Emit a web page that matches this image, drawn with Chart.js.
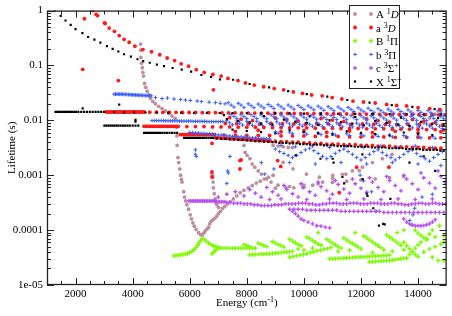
<!DOCTYPE html>
<html>
<head>
<meta charset="utf-8">
<script src="https://cdn.jsdelivr.net/npm/chart.js@4.4.0/dist/chart.umd.min.js"></script>
<style>
  html, body { margin: 0; padding: 0; background: #fff; }
  #wrap { width: 452px; height: 316px; }
</style>
</head>
<body>
<div id="wrap"><canvas id="canvas" width="452" height="316"></canvas></div>
<script>
// axis ticks
var xTickValues = [2000, 4000, 6000, 8000, 10000, 12000, 14000];
var yTickValues = [1, 0.1, 0.01, 0.001, 0.0001, 0.00001];
var yTickLabels = ['1', '0.1', '0.01', '0.001', '0.0001', '1e-05'];

// level lifetimes, [energy cm-1, lifetime s]
var levelsA1D = [
  [4280,0.245],[4280,0.19],[4290,0.14],[4310,0.11],[4340,0.091],[4360,0.075],[4380,0.064],[4420,0.047],[4460,0.04],[4510,0.034],
  [4570,0.029],[4630,0.025],[4710,0.022],[4800,0.020],[4910,0.018],[5030,0.0164],[5150,0.0148],[5260,0.0133],[5380,0.012],[5490,0.0109],
  [5540,0.0075],[5550,0.0052],[5560,0.0035],[5590,0.0021],[5615,0.0017],[5650,0.0013],[5680,0.001],[5710,0.00084],[5730,0.00075],[5790,0.0005],
  [5820,0.0004],[5860,0.00034],[5900,0.00029],[5960,0.00024],[6020,0.00019],[6060,0.00016],[6110,0.000135],[6160,0.000118],[6220,0.000103],[6310,0.00009],
  [6380,0.000083],[6430,0.00008],[6490,0.000088],[6540,0.000096],[6600,0.000104],[6660,0.000113],[6700,0.00013],[6750,0.000145],[6820,0.000155],[6890,0.000166],
  [6950,0.00018],[7010,0.0002],[7080,0.00022],[7150,0.00025],[7230,0.00027],[7320,0.0003],[7420,0.00033],[7530,0.00037],[7650,0.00042],[7770,0.00048],
  [7900,0.00053],[8050,0.00059],[8190,0.00065],[8330,0.00072],[8470,0.00078],[8610,0.00085],[8760,0.00092],[8920,0.001],
  [6780,0.00107],[6800,0.00098],[6810,0.00092],[6820,0.00075],[6830,0.00059],[6860,0.00046],[6890,0.00037],[6920,0.00032],[6950,0.00029],[7010,0.00026],
  [7880,0.0048],[7900,0.0035],[7940,0.0026],[8010,0.0023],[8110,0.002],[8190,0.0016],[8280,0.0014],[8400,0.0012],[8510,0.00105],[8690,0.00086],
  [8850,0.00075],[9090,0.00066],[9370,0.0006],[9650,0.00059],[9960,0.0006],[10310,0.00066],[10660,0.00075],[11010,0.00088],[11350,0.00104],[11700,0.0012],
  [12050,0.0014],[12400,0.0017],[12750,0.002],[13090,0.0024],
  [9270,0.00171],[9620,0.00131],[10090,0.00105],[10540,0.00092],[11010,0.00099],[11470,0.00105],[11940,0.00121],
  [8920,0.0035],[9100,0.0034],[9280,0.0033],[9450,0.0032],[9600,0.0032],
  [14000,0.0075],[14200,0.009],[14400,0.011],[14600,0.013],[14800,0.015],
  [9000,0.00058],[9500,0.00062],[10000,0.00066],[10500,0.0007],[11000,0.00074],[11500,0.00078],[12000,0.00082],[12500,0.00086],[13000,0.0009],[13500,0.00094]
];

var levelsa3D = [
  [2600,1.0],[2720,0.85],[2770,0.81],[3010,0.60],[3040,0.58],[3180,0.48],[3360,0.42],[3530,0.35],[3700,0.30],[3880,0.265],
  [4080,0.225],[4360,0.195],[4660,0.178],[4950,0.157],[5210,0.137],[5470,0.123],[5700,0.107],[5960,0.097],[6230,0.084],[6510,0.075],
  [6810,0.069],[7100,0.064],[7340,0.058],[7690,0.053],[7950,0.048],[8260,0.044],[8590,0.041],[8960,0.038],[9290,0.036],[9630,0.033],
  [9950,0.031],[10270,0.029],[10640,0.028],[10990,0.026],[11330,0.0245],[11720,0.0225],[12090,0.0216],[12500,0.0207],[12900,0.0195],[13250,0.0187],
  [13600,0.0183],[14000,0.017],[14410,0.0164],[14760,0.0158],
  [2250,0.085],[2310,0.71],[3500,0.053],[6830,0.036],[6780,0.0038],[6780,0.00115],[6780,0.00093],[7760,0.00185],[7760,0.0013],[7800,0.0019],
  [9080,0.00185],[9190,0.00145],[11240,0.00048],[11850,0.0014],[12980,0.0014],
  [3080,0.0142],[3140,0.0142],[3200,0.0142],[3260,0.0142],[3320,0.0142],[3380,0.0142],[3440,0.0142],[3500,0.0142],[3560,0.0142],[3620,0.0142],
  [3680,0.0142],[3740,0.0142],[3800,0.0142],[3860,0.0142],[3920,0.0142],[3980,0.0142],[4040,0.0142],[4100,0.0142],[4160,0.0142],[4220,0.0142],
  [4280,0.0142],[4340,0.0142],[4400,0.0142],
  [4600,0.0141],[4830,0.0141],[5060,0.014],[5290,0.014],[5520,0.014],[5750,0.0139],[5980,0.0139],[6210,0.0139],[6440,0.0138],[6670,0.0138],
  [6900,0.0138],[7130,0.0137],[7360,0.0137],[7590,0.0137],[7820,0.0136],[8050,0.0136],[8280,0.0136],[8510,0.0135],[8740,0.0135],[8970,0.0135],
  [9200,0.0134],[9430,0.0134],[9660,0.0134],[9890,0.0133],[10120,0.0133],[10350,0.0133],[10580,0.0132],[10810,0.0132],[11040,0.0132],[11270,0.0131],
  [11500,0.0131],[11730,0.0131],[11960,0.013],[12190,0.013],[12420,0.013],[12650,0.0129],[12880,0.0129],[13110,0.0129],[13340,0.0128],[13570,0.0128],
  [13800,0.0128],[14030,0.0127],[14260,0.0127],[14490,0.0127],[14720,0.0126],[14950,0.0126],
  [4400,0.0078],[4460,0.0078],[4520,0.0078],[4580,0.0078],[4640,0.0078],[4700,0.0078],[4760,0.0078],[4820,0.0078],[4880,0.0078],[4940,0.0078],
  [5000,0.0078],[5060,0.0078],[5120,0.0078],[5180,0.0078],[5240,0.0078],[5300,0.0078],[5360,0.0078],[5420,0.0078],[5480,0.0078],[5540,0.0078],[5600,0.0078],
  [5900,0.0077],[6200,0.0077],[6500,0.0077],[6800,0.0076],[7100,0.0076],[7400,0.0076],[7700,0.0075],[8000,0.0075],[8300,0.0075],[8600,0.0074],
  [8900,0.0074],[9200,0.0074],[9500,0.0073],[9800,0.0073],[10100,0.0073],[10400,0.0072],[10700,0.0072],[11000,0.0072],[11300,0.0071],[11600,0.0071],
  [11900,0.0071],[12200,0.007],[12500,0.007],[12800,0.007],[13100,0.0069],[13400,0.0069],[13700,0.0069],[14000,0.0068],[14300,0.0068],[14600,0.0068],[14900,0.0067],
  [5670,0.0055],[5730,0.0055],[5790,0.0055],[5850,0.0055],[5910,0.0055],[5970,0.0055],[6030,0.0055],[6090,0.0055],[6150,0.0055],[6210,0.0055],
  [6270,0.0055],[6330,0.0055],[6390,0.0055],[6450,0.0055],[6510,0.0055],[6570,0.0055],[6630,0.0055],[6690,0.0055],[6750,0.0055],[6810,0.0055],[6870,0.0055],
  [7200,0.0054],[7600,0.0054],[8000,0.0053],[8400,0.0053],[8800,0.0053],[9200,0.0052],[9600,0.0052],[10000,0.0052],[10400,0.0051],[10800,0.0051],
  [11200,0.0051],[11600,0.005],[12000,0.005],[12400,0.005],[12800,0.005],[13200,0.0049],[13600,0.0049],[14000,0.0049],[14400,0.0048],[14800,0.0048],
  [6900,0.0048],[6980,0.0048],[7060,0.0048],[7140,0.0047],[7220,0.0047],[7300,0.0047],[7380,0.0047],[7460,0.0046],[7540,0.0046],[7620,0.0046],
  [7700,0.0046],[7780,0.0045],[7860,0.0045],[7940,0.0045],[8020,0.0045],[8100,0.0044],[8180,0.0044],[8260,0.0044],[8340,0.0044],[8420,0.0043],
  [8500,0.0043],[8580,0.0043],[8660,0.0043],[8740,0.0042],[8820,0.0042],
  [9000,0.0042],[9200,0.0041],[9400,0.0041],[9600,0.004],[9800,0.004],[10000,0.0039],[10200,0.0039],[10400,0.0038],[10600,0.0038],[10800,0.0037],
  [11000,0.0037],[11200,0.0037],[11400,0.0036],[11600,0.0036],[11800,0.0036],[12000,0.0035],[12200,0.0035],[12400,0.0035],[12600,0.0034],[12800,0.0034],
  [13000,0.0034],[13200,0.0033],[13400,0.0033],[13600,0.0033],[13800,0.0032],[14000,0.0032],[14200,0.0032],[14400,0.0031],[14600,0.0031],[14800,0.0031],
  [7400,0.0112],[7800,0.0105],[8200,0.0099],[9000,0.011],[9400,0.0103],[9800,0.0097],[10600,0.0108],[11000,0.0101],[11400,0.0095],[12200,0.0106],
  [12600,0.0099],[13000,0.0093],[13800,0.0104],[14200,0.0097],[14600,0.0091],
  [7600,0.0063],[8400,0.0066],[9200,0.0062],[10000,0.0065],[10800,0.0061],[11600,0.0064],[12400,0.006],[13200,0.0063],[14000,0.0059],[14800,0.0062],
  [7250,0.0088],[7650,0.0087],[8050,0.0086],[8450,0.0085],[8850,0.0088],[9250,0.0087],[9650,0.0086],[10050,0.0085],[10450,0.0087],[10850,0.0086],
  [11250,0.0085],[11650,0.0084],[12050,0.0086],[12450,0.0085],[12850,0.0084],[13250,0.0083],[13650,0.0085],[14050,0.0084],[14450,0.0083],[14850,0.0082]
];

var levelsB1P = [
  [5440,0.000034],[5520,0.0000345],[5600,0.000035],[5680,0.0000355],[5760,0.000036],[5840,0.0000365],[5920,0.0000375],[6000,0.000039],[6080,0.000041],[6150,0.000044],
  [6220,0.000048],[6280,0.000053],[6330,0.000059],[6380,0.000065],[6430,0.00007],[6500,0.000068],[6580,0.000063],[6660,0.000058],[6740,0.000055],[6820,0.000052],
  [6900,0.00005],[6980,0.000049],
  [6780,0.000037],[6840,0.00004],[6900,0.000043],[6960,0.000045],[7040,0.000047],
  [7100,0.000047],[7200,0.000047],[7300,0.000047],[7400,0.000047],[7500,0.000047],[7600,0.000047],[7700,0.000047],[7800,0.000047],[7900,0.000047],[8000,0.000047],
  [8100,0.000047],[8200,0.000047],[8300,0.000047],
  [8100,0.0000355],[8200,0.000036],[8300,0.000036],[8400,0.0000362],[8500,0.0000365],[8600,0.0000367],[8700,0.000037],[8800,0.0000372],[8900,0.0000375],[9000,0.000038],
  [9100,0.0000385],[9200,0.000039],[9300,0.0000395],[9400,0.00004],[9500,0.0000405],[9600,0.000041],
  [9500,0.000032],[9620,0.000033],[9740,0.000034],[9860,0.000035],[9980,0.000036],[10100,0.000037],[10220,0.000039],[10340,0.00004],[10460,0.000042],[10580,0.000043],
  [10700,0.000045],[10820,0.000046],[10940,0.000048],
  [10900,0.00003],[11000,0.00003],[11100,0.00003],[11200,0.0000305],[11300,0.0000305],[11400,0.000031],[11500,0.000031],[11600,0.0000315],[11700,0.0000315],[11800,0.000032],
  [11900,0.000032],[12000,0.0000325],[12100,0.0000325],[12200,0.000033],[12300,0.000033],[12400,0.0000335],[12500,0.0000335],[12600,0.000034],[12700,0.000034],[12800,0.0000345],
  [12900,0.0000345],[13000,0.000035],
  [12300,0.0000262],[12400,0.0000265],[12500,0.0000268],[12600,0.000027],[12700,0.0000272],[12800,0.0000275],[12900,0.0000278],[13000,0.000028],[13100,0.0000285],[13200,0.000029],
  [13300,0.0000295],[13400,0.00003],[13500,0.0000305],[13600,0.000031],
  [13500,0.00006],[13600,0.000052],[13700,0.000046],[13800,0.00004],[13900,0.000036],[14000,0.000033],[13700,0.000036],[13800,0.000041],[13900,0.000047],[14000,0.000054],
  [14100,0.00006],[14200,0.00004],[14400,0.000045],[14600,0.00005],[14800,0.000055],[14900,0.00006],[14500,0.000032],[14700,0.000028],[14900,0.000028],[14300,0.00007],
  [14600,0.000075],[14900,0.00008],
  [7900,0.000055],[8000,0.000052],[8100,0.00005],
  [8400,0.000058],[8500,0.000055],[8600,0.000052],[8700,0.00005],
  [8900,0.000062],[9000,0.000058],[9100,0.000055],[9200,0.000052],[9300,0.000049],
  [9500,0.000068],[9600,0.000063],[9700,0.000059],[9800,0.000055],[9900,0.000052],
  [10100,0.000075],[10200,0.00007],[10300,0.000065],[10400,0.00006],[10500,0.000056],[10600,0.000053],
  [10800,0.000068],[10900,0.000063],[11000,0.000058],[11100,0.000054],[11200,0.00005],[11300,0.000047],
  [11400,0.000072],[11500,0.000066],[11600,0.000061],[11700,0.000057],[11800,0.000053],[11900,0.000049],[12000,0.000045],
  [12100,0.000078],[12200,0.000072],[12300,0.000066],[12400,0.000061],[12500,0.000056],[12600,0.000052],[12700,0.000048],[12800,0.000044],
  [12900,0.000082],[13000,0.000075],[13100,0.000069],[13200,0.000063],[13300,0.000058],[13400,0.000053],
  [14000,0.000088],[14100,0.00008],[14200,0.000073],[14300,0.000066],
  [9800,0.000045],[10000,0.000043],[10300,0.000047],[11200,0.000041],[11600,0.000043],[12400,0.000039],[13100,0.000041],[13500,0.000044],
  [10500,0.00009],[11800,0.00009],[14500,0.0001],[13900,0.0001],[13270,0.00009],[13500,0.0001],[14400,0.000085],[14750,0.00012]
];

var levelsb3P = [
  [3350,0.030],[3400,0.030],[3450,0.030],[3500,0.030],[3550,0.030],[3600,0.030],[3650,0.0299],[3700,0.0298],[3750,0.0297],[3800,0.0296],
  [3850,0.0295],[3900,0.0294],[3950,0.0293],[4000,0.0292],[4050,0.0291],[4100,0.029],[4150,0.0289],[4200,0.0288],[4250,0.0287],[4300,0.0286],
  [4350,0.0285],[4400,0.0284],[4450,0.0283],[4500,0.0282],[4550,0.0281],[4600,0.028],[4650,0.028],
  [4800,0.026],[5030,0.025],[5220,0.0255],[5450,0.0245],[5680,0.024],[5850,0.0235],[6020,0.023],[6260,0.0225],[6410,0.022],[6680,0.0215],
  [6900,0.021],[7070,0.0205],[7240,0.020],
  [7350,0.021],[7450,0.019],[7550,0.0175],[7700,0.0205],[7800,0.019],[7900,0.0172],[8050,0.020],[8150,0.0185],[8250,0.017],[8400,0.0198],
  [8500,0.0182],[8600,0.0168],[8750,0.0195],[8850,0.018],[8950,0.0165],[9100,0.0192],[9200,0.0177],[9300,0.0162],[9450,0.019],[9550,0.0175],
  [9650,0.016],[9800,0.0187],[9900,0.0172],[10000,0.0158],[10150,0.0184],[10250,0.017],[10350,0.0155],[10500,0.0181],[10600,0.0167],[10700,0.0152],
  [10850,0.0178],[10950,0.0164],[11050,0.015],[11200,0.0175],[11300,0.0161],[11400,0.0148],[11550,0.0172],[11650,0.0158],[11750,0.0145],[11900,0.0169],
  [12000,0.0155],[12100,0.0143],[12250,0.0166],[12350,0.0152],[12450,0.014],[12600,0.0163],[12700,0.015],[12800,0.0138],[12950,0.016],[13050,0.0147],
  [13150,0.0135],[13300,0.0158],[13400,0.0145],[13500,0.0133],[13650,0.0155],[13750,0.0142],[13850,0.013],[14000,0.0152],[14100,0.014],[14200,0.0128],
  [14350,0.015],[14450,0.0138],[14550,0.0126],[14700,0.0148],[14800,0.0135],[14900,0.0124],
  [7450,0.0128],[7550,0.0118],[7650,0.0109],[7800,0.0127],[7900,0.0117],[8000,0.0108],[8150,0.0127],[8250,0.0117],[8350,0.0108],[8500,0.0126],
  [8600,0.0116],[8700,0.0107],[8850,0.0126],[8950,0.0116],[9050,0.0107],[9200,0.0125],[9300,0.0115],[9400,0.0106],[9550,0.0125],[9650,0.0115],
  [9750,0.0106],[9900,0.0124],[10000,0.0114],[10100,0.0105],[10250,0.0124],[10350,0.0114],[10450,0.0105],[10600,0.0123],[10700,0.0113],[10800,0.0104],
  [10950,0.0123],[11050,0.0113],[11150,0.0104],[11300,0.0122],[11400,0.0112],[11500,0.0103],[11650,0.0122],[11750,0.0112],[11850,0.0103],[12000,0.0121],
  [12100,0.0111],[12200,0.0102],[12350,0.0121],[12450,0.0111],[12550,0.0102],[12700,0.012],[12800,0.011],[12900,0.0101],[13050,0.012],[13150,0.011],
  [13250,0.0101],[13400,0.0119],[13500,0.0109],[13600,0.01],[13750,0.0119],[13850,0.0109],[13950,0.01],[14100,0.0118],[14200,0.0108],[14300,0.0099],
  [14450,0.0118],[14550,0.0108],[14650,0.0099],[14800,0.0117],[14900,0.0107],
  [4680,0.0099],[4760,0.0099],[4840,0.0099],[4920,0.0099],[5000,0.0099],[5080,0.0099],[5160,0.0098],[5240,0.0098],[5320,0.0098],[5400,0.0098],
  [5480,0.0098],[5560,0.0098],[5640,0.0097],[5720,0.0097],[5800,0.0097],[5880,0.0097],[5960,0.0097],[6040,0.0097],[6120,0.0096],[6200,0.0096],
  [6280,0.0096],[6360,0.0096],[6440,0.0096],[6520,0.0096],[6600,0.0095],[6680,0.0095],[6760,0.0095],[6840,0.0095],[6920,0.0095],[7000,0.0095],
  [7080,0.0095],[7160,0.0095],
  [7300,0.0098],[7400,0.009],[7500,0.0083],[7650,0.0097],[7750,0.0089],[7850,0.0082],[8000,0.0096],[8100,0.0088],[8200,0.0081],[8350,0.0096],
  [8450,0.0088],[8550,0.0081],[8700,0.0095],[8800,0.0087],[8900,0.008],[9050,0.0094],[9150,0.0086],[9250,0.0079],[9400,0.0094],[9500,0.0086],
  [9600,0.0079],[9750,0.0093],[9850,0.0085],[9950,0.0078],[10100,0.0092],[10200,0.0085],[10300,0.0078],[10450,0.0092],[10550,0.0084],[10650,0.0077],
  [10800,0.0091],[10900,0.0084],[11000,0.0077],[11150,0.009],[11250,0.0083],[11350,0.0076],[11500,0.009],[11600,0.0083],[11700,0.0076],[11850,0.0089],
  [11950,0.0082],[12050,0.0075],[12200,0.0089],[12300,0.0082],[12400,0.0075],[12550,0.0088],[12650,0.0081],[12750,0.0074],[12900,0.0088],[13000,0.0081],
  [13100,0.0074],[13250,0.0087],[13350,0.008],[13450,0.0073],[13600,0.0087],[13700,0.008],[13800,0.0073],[13950,0.0086],[14050,0.0079],[14150,0.0072],
  [14300,0.0086],[14400,0.0079],[14500,0.0072],[14650,0.0085],[14750,0.0078],[14850,0.0071],
  [9000,0.0062],[9100,0.0058],[9500,0.0061],[9600,0.0057],[10000,0.006],[10100,0.0056],[10500,0.0059],[10600,0.0055],[11000,0.0058],[11100,0.0054],
  [11500,0.0057],[11600,0.0053],[12000,0.0056],[12100,0.0052],[12500,0.0055],[12600,0.0051],[13000,0.0054],[13100,0.005],[13500,0.0053],[13600,0.0049],
  [14000,0.0052],[14100,0.0048],[14500,0.0051],[14600,0.0047],
  [6000,0.006],[6100,0.006],[6200,0.0059],[6300,0.0059],[6400,0.0058],[6500,0.0058],[6600,0.0057],[6700,0.0057],[6800,0.0056],[6900,0.0055],
  [7000,0.0054],[7100,0.0054],[7200,0.0053],[7300,0.0052],[7400,0.0052],[7500,0.0051],[7600,0.0051],[7700,0.005],[7800,0.005],[7900,0.0049],
  [8000,0.0049],[8100,0.0048],[8200,0.0048],[8300,0.0048],[8400,0.0047],[8500,0.0047],[8600,0.0047],[8700,0.0046],[8800,0.0046],
  [9000,0.003],[9150,0.0027],[9300,0.0025],[9450,0.0023],[9600,0.0021],[9750,0.0023],[9900,0.0026],[10050,0.0029],[10200,0.0031],[10350,0.0028],
  [10500,0.0025],[10650,0.0022],[10800,0.002],[10950,0.0022],[11100,0.0025],[11250,0.0028],[11400,0.003],[11550,0.0027],[11700,0.0024],[11850,0.0021],
  [12000,0.0019],[12150,0.0021],[12300,0.0024],[12450,0.0027],[12600,0.0029],[12750,0.0026],[12900,0.0023],[13050,0.0021],[13200,0.0019],[13350,0.0021],
  [13500,0.0024],[13650,0.0027],[13800,0.0029],[13950,0.0025],[14100,0.0022],[14250,0.002],[14400,0.0018],[14550,0.0021],[14700,0.0024],[14850,0.0027],
  [9200,0.0035],[9700,0.0033],[10300,0.0034],[10900,0.0032],[11500,0.0034],[12100,0.0032],[12700,0.0034],[13300,0.0032],[13900,0.0034],[14500,0.0032],
  [9500,0.0017],[10400,0.0016],[11300,0.0017],[12200,0.0016],[13100,0.0017],[14000,0.0016],[14800,0.0015],
  [6200,0.0029],[6200,0.0024],[6230,0.0022],[7300,0.00071],[7350,0.0011],[7410,0.0022],[8510,0.0017],[8630,0.00105],[7330,0.0012],[8950,0.0013],
  [11970,0.001],[12090,0.00079],[12370,0.0005],[12550,0.00022],[13710,0.00015],[13820,0.00019],[13880,0.00025],[13790,0.000125],[14140,0.0004],[14500,0.00045]
];

var levelsc3S = [
  [5970,0.00034],[6030,0.00034],[6090,0.00034],[6150,0.00034],[6210,0.00034],[6270,0.00034],[6330,0.00034],[6390,0.00034],[6450,0.00034],[6510,0.00034],
  [6570,0.00034],[6630,0.00034],[6690,0.00034],[6750,0.00034],[6810,0.00034],[6870,0.00034],[6930,0.00033],[6990,0.00033],[7050,0.00033],[7110,0.00033],
  [7170,0.00033],[7230,0.00033],
  [7300,0.00032],[7420,0.00032],[7540,0.00031],[7660,0.00031],[7780,0.00031],[7900,0.0003],[8020,0.0003],[8140,0.0003],[8260,0.00029],[8380,0.00029],
  [8500,0.00028],[8620,0.00028],[8740,0.00028],[8860,0.00028],[8980,0.00029],[9100,0.00029],[9220,0.00029],[9340,0.0003],[9460,0.0003],[9580,0.0003],
  [9700,0.0003],[9820,0.00031],[9940,0.00031],[10060,0.00031],[10180,0.0003],[10300,0.0003],[10420,0.00029],[10540,0.00029],[10660,0.0003],[10780,0.0003],
  [10900,0.00031],[11020,0.00031],[11140,0.00031],[11260,0.0003],[11380,0.0003],[11500,0.0003],[11620,0.00031],[11740,0.00031],[11860,0.00031],[11980,0.0003],
  [12100,0.0003],[12220,0.0003],[12340,0.00031],[12460,0.00031],[12580,0.00031],[12700,0.0003],[12820,0.0003],[12940,0.0003],[13060,0.00031],[13180,0.00031],
  [13300,0.0003],[13420,0.0003],[13540,0.00029],[13660,0.00029],[13780,0.0003],[13900,0.0003],[14020,0.00031],[14140,0.00031],[14260,0.0003],[14380,0.0003],
  [14500,0.00031],[14620,0.00031],[14740,0.0003],[14860,0.0003],[14980,0.0003],
  [9500,0.00024],[9650,0.00024],[9800,0.00024],[9950,0.00024],[10100,0.00023],[10250,0.00023],[10400,0.00023],[10550,0.00023],[10700,0.00023],[10850,0.00023],
  [11000,0.00023],[11150,0.00023],[11300,0.00022],[11450,0.00022],[11600,0.00022],[11750,0.00022],[11900,0.00022],[12050,0.00022],[12200,0.00022],[12350,0.00022],
  [12500,0.00022],[12650,0.00022],[12800,0.00021],[12950,0.00021],[13100,0.00021],[13250,0.00021],[13400,0.00021],[13550,0.00021],[13700,0.00021],[13850,0.00021],
  [14000,0.00021],[14150,0.00021],[14300,0.00021],[14450,0.00021],[14600,0.00021],[14750,0.00021],[14900,0.00021],
  [9600,0.00022],[9700,0.0002],[9800,0.00018],[9900,0.00016],[10000,0.00015],[10150,0.00014],[10300,0.00013],[10450,0.00012],[10600,0.000118],[10750,0.000113],
  [10900,0.00011],
  [13500,0.00016],[13600,0.00014],[13700,0.00013],[13800,0.000125],[13900,0.00012],[14000,0.00012],[14100,0.00012],[14200,0.000122],[14300,0.000125],[14400,0.00013],
  [14500,0.00014],[14600,0.000155],
  [7000,0.0004],[7300,0.00045],[7600,0.0005],[7900,0.00042],[8100,0.00055],[8300,0.00047],[8500,0.0004],[8700,0.0006],[8900,0.0005],[9100,0.00043],
  [9300,0.00065],[9400,0.00055],[9600,0.00046],[9800,0.0004],[9900,0.0007],[10000,0.0006],[10200,0.0005],[10400,0.00043],[10500,0.00075],[10600,0.00062],
  [10800,0.00052],[11000,0.00045],[11100,0.0008],[11200,0.00068],[11400,0.00056],[11600,0.00047],[11700,0.00085],[11800,0.0007],[12000,0.00058],[12200,0.00049],
  [12300,0.0009],[12400,0.00075],[12600,0.0006],[12800,0.0005],[12900,0.00095],[13000,0.0008],[13200,0.00065],[13400,0.00052],[13500,0.001],[13600,0.00085],
  [13800,0.0007],[14000,0.00055],[14100,0.0011],[14200,0.0009],[14400,0.00072],[14600,0.00058],[14700,0.0012],[14800,0.00095],[14950,0.00075],
  [8800,0.00036],[9200,0.00037],[10100,0.00036],[10900,0.00037],[11500,0.00036],[12100,0.00037],[12700,0.00036],[13300,0.00037],[13900,0.00036],[14500,0.00037]
];

var levelsX1S = [
  [1270,1.0],[1480,0.80],[1650,0.66],[1830,0.55],[2000,0.46],[2240,0.39],[2440,0.33],[2660,0.295],[2870,0.26],[3100,0.225],
  [3300,0.20],[3500,0.18],[3700,0.16],[3940,0.145],[4170,0.13],[4370,0.12],[4600,0.112],[4850,0.104],[5100,0.097],[5400,0.09],
  [5720,0.084],[6050,0.077],[6410,0.067],[6750,0.062],[7060,0.056],[7520,0.055],[8100,0.046],[8780,0.040],[9450,0.034],[10100,0.030],
  [10820,0.027],[11520,0.0235],[12300,0.021],[13080,0.019],[13800,0.0176],[14580,0.016],
  [1300,0.0143],[1360,0.0143],[1420,0.0143],[1480,0.0143],[1540,0.0143],[1600,0.0143],[1660,0.0143],[1720,0.0143],[1780,0.0143],[1840,0.0143],
  [1900,0.0143],[1960,0.0143],[2020,0.0143],[2100,0.0143],[2200,0.0143],[2300,0.0143],[2400,0.0143],[2500,0.0143],[2600,0.0143],[2700,0.0143],
  [2800,0.0143],[2900,0.0143],[3000,0.0143],
  [3350,0.0141],[3700,0.014],[4050,0.014],[4450,0.0139],[4850,0.0139],[5250,0.0138],[5700,0.0138],[6150,0.0137],[6600,0.0137],[7050,0.0136],
  [7500,0.0136],[8000,0.0135],[8500,0.0135],[9000,0.0134],[9500,0.0134],[10000,0.0133],[10600,0.0133],[11200,0.0132],[11800,0.0131],[12400,0.013],
  [13000,0.013],[13600,0.0129],[14200,0.0128],[14800,0.0128],
  [2250,0.0165],[3530,0.0193],[4100,0.0102],[4100,0.0095],
  [3010,0.008],[3080,0.008],[3150,0.008],[3220,0.008],[3290,0.008],[3360,0.008],[3430,0.008],[3500,0.008],[3580,0.008],[3660,0.008],
  [3740,0.008],[3820,0.008],[3900,0.008],[4000,0.008],[4100,0.008],[4200,0.008],
  [4400,0.0059],[4470,0.0059],[4540,0.0059],[4610,0.0059],[4680,0.0059],[4750,0.0059],[4820,0.0059],[4890,0.0059],[4960,0.0059],[5040,0.0059],
  [5120,0.0059],[5200,0.0059],[5290,0.0059],[5380,0.0059],[5470,0.0059],[5560,0.0059],
  [5800,0.0048],[5870,0.0048],[5940,0.0048],[6010,0.0048],[6080,0.0048],[6150,0.0048],[6220,0.0048],[6290,0.0048],[6360,0.0048],[6430,0.0048],
  [6500,0.0048],[6580,0.0048],[6660,0.0048],[6740,0.0048],[6820,0.0048],[6950,0.0047],[7100,0.0046],[7250,0.0046],[7400,0.0045],[7550,0.0045],
  [7700,0.0044],[7850,0.0044],[8000,0.0043],[8150,0.0043],[8300,0.0042],[8450,0.0042],[8600,0.0041],[8750,0.0041],
  [8900,0.004],[9020,0.004],[9140,0.0039],[9260,0.0039],[9380,0.0039],[9500,0.0038],[9620,0.0038],[9740,0.0038],[9860,0.0037],[9980,0.0037],
  [10100,0.0037],[10220,0.0036],[10340,0.0036],[10460,0.0036],[10580,0.0036],[10700,0.0035],[10820,0.0035],[10940,0.0035],[11060,0.0035],[11180,0.0034],
  [11300,0.0034],[11420,0.0034],[11540,0.0034],[11660,0.0034],[11780,0.0033],[11900,0.0033],[12020,0.0033],[12140,0.0033],[12260,0.0033],[12380,0.0032],
  [12500,0.0032],[12620,0.0032],[12740,0.0032],[12860,0.0032],[12980,0.0031],[13100,0.0031],[13220,0.0031],[13340,0.0031],[13460,0.0031],[13580,0.003],
  [13700,0.003],[13820,0.003],[13940,0.003],[14060,0.003],[14180,0.0029],[14300,0.0029],[14420,0.0029],[14540,0.0029],[14660,0.0029],[14780,0.0028],[14900,0.0028],
  [7300,0.0105],[7700,0.0098],[8100,0.0092],[8500,0.0088],[8900,0.0084],[9300,0.0103],[9700,0.0095],[10100,0.0089],[10500,0.0083],[10900,0.01],
  [11300,0.0093],[11700,0.0087],[12100,0.0081],[12500,0.0097],[12900,0.009],[13300,0.0084],[13700,0.0079],[14100,0.0094],[14500,0.0087],[14900,0.0081],
  [7500,0.0068],[8000,0.0064],[8500,0.0061],[9000,0.0058],[9500,0.0066],[10000,0.0062],[10500,0.0058],[11000,0.0055],[11500,0.0063],[12000,0.0059],
  [12500,0.0056],[13000,0.0053],[13500,0.006],[14000,0.0057],[14500,0.0054],
  [7200,0.0125],[8600,0.012],[10200,0.0118],[11800,0.0115],[13400,0.0112],[14700,0.011],
  [9710,0.0023],[10580,0.002],[11040,0.0017],[12060,0.00085],[12200,0.00046],[12780,0.00013],[12630,0.000121],[12830,0.000127],[12430,0.00025],[13030,0.00037],
  [12230,0.00042],[11010,0.002],[12050,0.0024],[11350,0.00093],[11410,0.00071],[13700,0.0017],[14200,0.0022],[14600,0.0012]
];

var seriesStyles = [
  { label: 'A1D', data: levelsA1D, color: '#bc8fa0', shape: 'circle', r: 1.9, order: 5 },
  { label: 'a3D', data: levelsa3D, color: '#ff1a1a', shape: 'circle', r: 1.9, order: 4 },
  { label: 'B1P', data: levelsB1P, color: '#7cfc00', shape: 'cross', r: 2.2, w: 1.4, order: 3 },
  { label: 'b3P', data: levelsb3P, color: '#3a5cff', shape: 'cross', r: 1.9, w: 1, order: 2 },
  { label: 'c3S', data: levelsc3S, color: '#b84cf5', shape: 'cross', r: 2, w: 1.3, order: 1 },
  { label: 'X1S', data: levelsX1S, color: '#000000', shape: 'rect', r: 1.1, order: 0 }
];

var serif = '"Liberation Serif", "Times New Roman", serif';

function drawMarker(ctx, s, x, y) {
  ctx.fillStyle = s.color;
  ctx.strokeStyle = s.color;
  if (s.shape === 'circle') {
    ctx.beginPath(); ctx.arc(x, y, s.r, 0, Math.PI * 2); ctx.fill();
  } else if (s.shape === 'cross') {
    ctx.lineWidth = s.w;
    ctx.beginPath();
    ctx.moveTo(x - s.r, y); ctx.lineTo(x + s.r, y);
    ctx.moveTo(x, y - s.r); ctx.lineTo(x, y + s.r);
    ctx.stroke();
  } else {
    ctx.fillRect(x - s.r, y - s.r, s.r * 2, s.r * 2);
  }
}

// text with superscripts: parts = [[text, 'n'|'s'|'i'], ...]
function drawRich(ctx, parts, x, y) {
  parts.forEach(function (p) {
    if (p[1] === 's') {
      ctx.font = '8px ' + serif;
      ctx.fillText(p[0], x, y - 4);
    } else if (p[1] === 'i') {
      ctx.font = 'italic 11px ' + serif;
      ctx.fillText(p[0], x, y);
    } else {
      ctx.font = '11px ' + serif;
      ctx.fillText(p[0], x, y);
    }
    x += ctx.measureText(p[0]).width;
  });
  return x;
}

var legendRows = [
  [['A ', 'n'], ['1', 's'], ['D', 'i']],
  [['a ', 'n'], ['3', 's'], ['D', 'i']],
  [['B ', 'n'], ['1', 's'], ['\u03A0', 'n']],
  [['b ', 'n'], ['3', 's'], ['\u03A0', 'n']],
  [['c ', 'n'], ['3', 's'], ['\u03A3', 'n'], ['+', 's']],
  [['X ', 'n'], ['1', 's'], ['\u03A3', 'n'], ['+', 's']]
];

var framePlugin = {
  id: 'framePlugin',
  afterDatasetsDraw: function (chart) {
    var ctx = chart.ctx, a = chart.chartArea, xs = chart.scales.x, ys = chart.scales.y;
    ctx.save();
    ctx.strokeStyle = '#222';
    ctx.lineWidth = 1;
    function seg(x1, y1, x2, y2) { ctx.beginPath(); ctx.moveTo(x1, y1); ctx.lineTo(x2, y2); ctx.stroke(); }
    for (var v = 1500; v < 15000; v += 500) {
      var px = Math.round(xs.getPixelForValue(v)) + 0.5;
      var len = (v % 2000 === 0) ? 7 : 4;
      seg(px, a.bottom, px, a.bottom - len);
      seg(px, a.top, px, a.top + len);
    }
    for (var d = -5; d <= 0; d++) {
      for (var m = 1; m < 10; m++) {
        if (d === 0 && m > 1) break;
        var py = Math.round(ys.getPixelForValue(m * Math.pow(10, d))) + 0.5;
        var l2 = (m === 1) ? 7 : 4;
        seg(a.left, py, a.left + l2, py);
        seg(a.right, py, a.right - l2, py);
      }
    }
    ctx.lineWidth = 1.3;
    ctx.strokeRect(a.left + 0.5, a.top + 0.5, a.right - a.left - 1, a.bottom - a.top - 1);

    // axis titles
    ctx.fillStyle = '#000';
    ctx.textBaseline = 'alphabetic';
    ctx.textAlign = 'left';
    ctx.font = '11px ' + serif;
    var w1 = ctx.measureText('Energy (cm').width;
    ctx.font = '8px ' + serif;
    var w2 = ctx.measureText('-1').width;
    ctx.font = '11px ' + serif;
    var w3 = ctx.measureText(')').width;
    var tx = (a.left + a.right) / 2 - (w1 + w2 + w3) / 2;
    drawRich(ctx, [['Energy (cm', 'n'], ['-1', 's'], [')', 'n']], tx, 306);
    ctx.save();
    ctx.translate(15, (a.top + a.bottom) / 2);
    ctx.rotate(-Math.PI / 2);
    ctx.textAlign = 'center';
    ctx.font = '11px ' + serif;
    ctx.fillText('Lifetime (s)', 0, 0);
    ctx.restore();

    // legend
    ctx.fillStyle = '#fff';
    ctx.fillRect(349, 5, 50, 84);
    ctx.strokeStyle = '#222';
    ctx.lineWidth = 1;
    ctx.strokeRect(349.5, 5.5, 50, 83);
    seriesStyles.forEach(function (s, i) {
      var ry = 14 + i * 13.5;
      drawMarker(ctx, s, 355, ry);
      drawMarker(ctx, s, 371, ry);
      ctx.fillStyle = '#000';
      ctx.textAlign = 'left';
      drawRich(ctx, legendRows[i], 376, ry + 4);
    });
    ctx.restore();
  }
};

var datasets = seriesStyles.map(function (s) {
  return {
    label: s.label,
    data: s.data.map(function (p) { return { x: p[0], y: p[1] }; }),
    order: s.order,
    pointStyle: s.shape === 'cross' ? 'cross' : (s.shape === 'rect' ? 'rect' : 'circle'),
    pointRadius: s.shape === 'rect' ? s.r * 1.4 : s.r,
    pointBorderWidth: s.shape === 'cross' ? s.w : 0,
    pointBackgroundColor: s.color,
    pointBorderColor: s.color,
    showLine: false
  };
});

var ctx = document.getElementById('canvas').getContext('2d');
var myChart = new Chart(ctx, {
  type: 'scatter',
  data: { datasets: datasets },
  plugins: [framePlugin],
  options: {
    responsive: false,
    animation: false,
    devicePixelRatio: 1,
    layout: { padding: { left: 0, right: 2, top: 5, bottom: 0 } },
    plugins: { legend: { display: false }, tooltip: { enabled: false } },
    scales: {
      x: {
        type: 'linear', min: 1000, max: 15000,
        grid: { display: false, drawTicks: false },
        border: { display: false },
        afterBuildTicks: function (scale) { scale.ticks = xTickValues.map(function (v) { return { value: v }; }); },
        afterFit: function (scale) { scale.height = 31; },
        ticks: { padding: 3, color: '#000', maxRotation: 0, autoSkip: false, font: { family: serif, size: 11 },
          callback: function (v) { return String(v); } }
      },
      y: {
        type: 'logarithmic', min: 0.00001, max: 1,
        grid: { display: false, drawTicks: false },
        border: { display: false },
        afterBuildTicks: function (scale) { scale.ticks = yTickValues.map(function (v) { return { value: v }; }); },
        afterFit: function (scale) { scale.width = 47; },
        ticks: { padding: 4, color: '#000', autoSkip: false, font: { family: serif, size: 11 },
          callback: function (v) { var i = yTickValues.indexOf(v); return i >= 0 ? yTickLabels[i] : ''; } }
      }
    }
  }
});
</script>
</body>
</html>
